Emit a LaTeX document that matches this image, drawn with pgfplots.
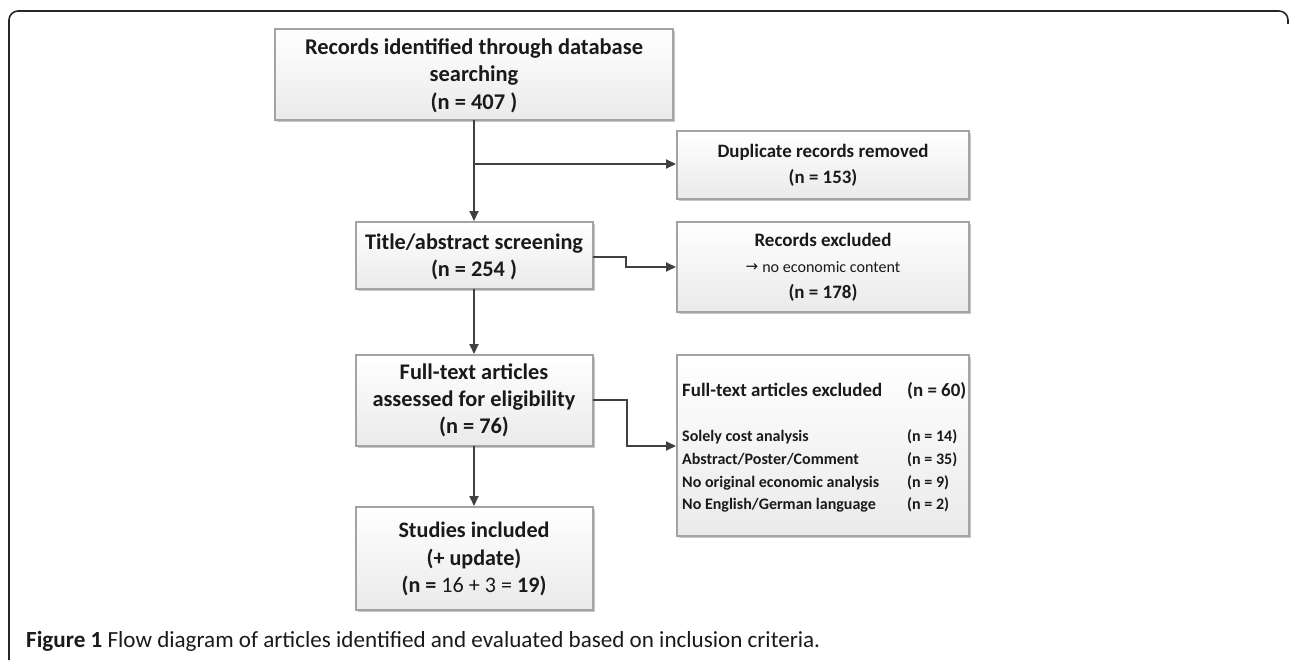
\documentclass[border=0pt]{standalone}
\usepackage{pgfplots}
\pgfplotsset{compat=1.18}
\usepackage{fontspec}
\setmainfont{Carlito}
\newfontfamily\dejavu{DejaVu Sans}
\usetikzlibrary{shadows,arrows.meta}
\definecolor{ln}{HTML}{404040}
\definecolor{bd}{HTML}{A3A3A3}
\definecolor{bt}{HTML}{EAEAEA}
\definecolor{tx}{HTML}{1A1A1A}
\newlength\tmpw
\newcommand\calcfs[3]{\settowidth\tmpw{\fontsize{20}{24}\selectfont#3}%
  \pgfmathsetmacro\tmpfs{20*#2/\tmpw}\global\let#1\tmpfs}
\begin{document}
\calcfs\fsA{338}{\bfseries Records identified through database}%
\calcfs\fsB{211}{\bfseries Duplicate records removed}%
\calcfs\fsC{218}{\bfseries Title/abstract screening}%
\calcfs\fsD{203}{\bfseries assessed for eligibility}%
\calcfs\fsE{151}{\bfseries Studies included}%
\calcfs\fsF{137}{\bfseries Records excluded}%
\calcfs\fsG{138}{no economic content}%
\calcfs\fsH{200}{\bfseries Full-text articles excluded}%
\calcfs\fsI{197}{\bfseries No original economic analysis}%
\calcfs\fsJ{794}{\textbf{Figure 1} Flow diagram of articles identified and evaluated based on inclusion criteria.}%
\begin{tikzpicture}[
 box/.style={draw=bd, line width=1.4pt, top color=white, bottom color=bt,
   drop shadow={shadow xshift=1.6pt, shadow yshift=-1.6pt, opacity=0.22, fill=black}},
 arr/.style={draw=ln, line width=2pt, -{Triangle[length=10pt,width=9pt]}},
 txt/.style={align=center, text=tx, inner sep=0pt},
 lst/.style={font=\fontsize{\fsI}{20}\selectfont\bfseries, anchor=base west, text=tx, inner sep=0pt}
]
\begin{axis}[hide axis, scale only axis, width=1290pt, height=656pt,
  xmin=0, xmax=1290, ymin=0, ymax=656, y dir=reverse, clip=false]
\addplot[draw=none] coordinates {(0,0) (1290,656)};
\path (axis cs:0,0) rectangle (axis cs:1290,656);
% outer frame
\draw[line width=1.6pt, draw=black!85, rounded corners=9pt]
  (axis cs:9,660) -- (axis cs:9,11) -- (axis cs:1288,11) -- (axis cs:1288,24);
% boxes
\draw[box] (axis cs:275,29) rectangle (axis cs:673,120);
\draw[box] (axis cs:677,131) rectangle (axis cs:969,199);
\draw[box] (axis cs:356,222) rectangle (axis cs:593,289);
\draw[box] (axis cs:677,222) rectangle (axis cs:969,312);
\draw[box] (axis cs:356,355) rectangle (axis cs:593,446);
\draw[box] (axis cs:677,355) rectangle (axis cs:969,536);
\draw[box] (axis cs:356,507) rectangle (axis cs:593,610);
% arrows
\draw[arr] (axis cs:474,120) -- (axis cs:474,221);
\draw[arr] (axis cs:474,164) -- (axis cs:676,164);
\draw[arr] (axis cs:593,257) -- (axis cs:626,257) -- (axis cs:626,267) -- (axis cs:676,267);
\draw[arr] (axis cs:474,289) -- (axis cs:474,354);
\draw[arr] (axis cs:593,400) -- (axis cs:627,400) -- (axis cs:627,446) -- (axis cs:676,446);
\draw[arr] (axis cs:474,446) -- (axis cs:474,506);
% texts
\node[txt, font=\fontsize{\fsA}{27.5}\selectfont\bfseries] at (axis cs:474,75.5) {Records identified through database\\searching\\(n = 407 )};
\node[txt, font=\fontsize{\fsB}{26}\selectfont\bfseries] at (axis cs:823,165) {Duplicate records removed\\(n = 153)};
\node[txt, font=\fontsize{\fsC}{27}\selectfont\bfseries] at (axis cs:474,256.5) {Title/abstract screening\\(n = 254 )};
\node[txt, font=\fontsize{\fsF}{26}\selectfont\bfseries] at (axis cs:823,240) {Records excluded};
\node[txt, font=\fontsize{\fsG}{20}\selectfont] at (axis cs:823,267)
  {{\dejavu\fontsize{15}{16}\selectfont\raisebox{0.5pt}{\textrightarrow}}\hspace{4pt}no economic content};
\node[txt, font=\fontsize{\fsF}{26}\selectfont\bfseries] at (axis cs:823,293) {(n = 178)};
\node[txt, font=\fontsize{\fsD}{27}\selectfont\bfseries] at (axis cs:474,400) {Full-text articles\\assessed for eligibility\\(n = 76)};
\node[txt, font=\fontsize{\fsE}{27.5}\selectfont\bfseries] at (axis cs:474,559) {Studies included\\(+ update)\\(n = {\mdseries 16 + 3 =} 19)};
\node[lst, font=\fontsize{\fsH}{22}\selectfont\bfseries] at (axis cs:682,396) {Full-text articles excluded};
\node[lst, font=\fontsize{\fsH}{22}\selectfont\bfseries] at (axis cs:907,396) {(n = 60)};
\node[lst] at (axis cs:682,441) {Solely cost analysis};
\node[lst] at (axis cs:907,441) {(n = 14)};
\node[lst] at (axis cs:682,464) {Abstract/Poster/Comment};
\node[lst] at (axis cs:907,464) {(n = 35)};
\node[lst] at (axis cs:682,487) {No original economic analysis};
\node[lst] at (axis cs:907,487) {(n = 9)};
\node[lst] at (axis cs:682,509.5) {No English/German language};
\node[lst] at (axis cs:907,509.5) {(n = 2)};
% caption
\node[anchor=base west, inner sep=0pt, text=tx, font=\fontsize{\fsJ}{22}\selectfont] at (axis cs:26,647)
  {\textbf{Figure 1} Flow diagram of articles identified and evaluated based on inclusion criteria.};
\end{axis}
\end{tikzpicture}
\end{document}
